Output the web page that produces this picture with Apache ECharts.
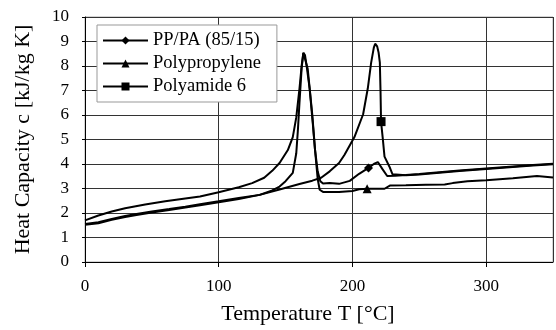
<!DOCTYPE html>
<html><head><meta charset="utf-8">
<script src="https://cdn.jsdelivr.net/npm/echarts@6/dist/echarts.min.js"></script>
<style>html,body{margin:0;padding:0;background:#fff}#c{width:556px;height:330px}</style>
</head><body><div id="c"></div><script>
const seriesNames = ['PP/PA (85/15)', 'Polypropylene', 'Polyamide 6'];
const blendData = [[0,1.7],[10,1.9],[20,2.06],[30,2.19],[45,2.35],[60,2.48],[75,2.59],[86,2.67],[100,2.85],[115,3.05],[125,3.22],[134,3.44],[140,3.72],[145.5,4.04],[151.7,4.57],[155.4,5.1],[158,5.9],[160.4,7.08],[162,8.0],[163.3,8.54],[164.5,8.45],[166,7.9],[168,7.08],[170.4,5.63],[172,4.6],[174,3.7],[176,3.3],[178,3.2],[183,3.22],[190,3.19],[198,3.31],[205,3.6],[212,3.84],[216,4.0],[219,4.08],[222.6,3.78],[226,3.51],[232,3.52],[240,3.55],[250,3.59],[265,3.66],[280,3.73],[300,3.82],[320,3.9],[335,3.96],[350,4.01]];
const ppData = [[0,1.52],[10,1.58],[20,1.72],[30,1.84],[38.5,1.92],[50,2.02],[63,2.12],[75,2.22],[86,2.32],[100,2.44],[115,2.57],[130.6,2.74],[140,2.92],[145.5,3.08],[150,3.3],[155.4,3.64],[158,4.44],[159.2,5.37],[160.4,6.5],[162,7.9],[163.3,8.54],[164.5,8.5],[166.5,7.9],[168,7.1],[170,6.0],[172,4.6],[174,3.4],[175.5,2.95],[178,2.86],[190,2.86],[200,2.9],[205,2.97],[211,2.99],[224,2.99],[228,3.12],[240,3.13],[255,3.15],[269,3.16],[275,3.22],[286,3.3],[300,3.34],[320,3.42],[338,3.51],[350,3.45]];
const pa6Data = [[0,1.55],[10,1.62],[20,1.76],[30,1.88],[38.5,1.96],[50,2.06],[63,2.16],[75,2.26],[86,2.36],[100,2.48],[115,2.61],[130.6,2.74],[145.5,2.96],[160.4,3.18],[170,3.32],[176.6,3.44],[183,3.7],[190,4.04],[194,4.37],[201.5,5.1],[208,6.03],[211.5,7.09],[214,8.14],[216,8.75],[217,8.91],[218.5,8.8],[219.6,8.54],[220.5,8.14],[221,7.0],[221.4,5.73],[222.6,5.1],[224,4.3],[227.6,3.9],[230,3.58],[240,3.54],[250,3.57],[265,3.64],[280,3.71],[300,3.8],[320,3.88],[335,3.94],[350,3.99]];
const markerT = [212, 211, 221.4];
const symbols = ['diamond', 'triangle', 'rect'];
const xName = 'Temperature T [°C]';
const yName = 'Heat Capacity c [kJ/kg K]';

const font = "'Liberation Serif','Times New Roman',serif";
const allData = [blendData, ppData, pa6Data];
const chart = echarts.init(document.getElementById('c'), null, {renderer: 'canvas'});
chart.setOption({
  animation: false,
  backgroundColor: '#fff',
  textStyle: {fontFamily: font, color: '#000'},
  grid: {left: 85, right: 3, top: 17, bottom: 62, show: true, borderColor: '#aaa', borderWidth: 1},
  legend: {
    orient: 'vertical', left: 97, top: 25,
    data: seriesNames,
    itemWidth: 45, itemHeight: 10, itemGap: 4,
    padding: [6, 16, 6, 5],
    backgroundColor: '#fff', borderColor: '#999', borderWidth: 1,
    textStyle: {fontFamily: font, fontSize: 18.5, color: '#000', lineHeight: 17}
  },
  xAxis: {
    type: 'value', min: 0, max: 350, interval: 100,
    name: xName, nameLocation: 'middle', nameGap: 41,
    nameTextStyle: {fontFamily: font, fontSize: 22, color: '#000', padding: [0, 22, 0, 0]},
    axisLine: {show: true, lineStyle: {color: '#000', width: 1}},
    axisTick: {show: true, inside: false, length: 5, lineStyle: {color: '#000'}},
    axisLabel: {fontFamily: font, fontSize: 17, color: '#000', margin: 16, showMaxLabel: false},
    splitLine: {show: true, lineStyle: {color: '#333', width: 1}}
  },
  yAxis: {
    type: 'value', min: 0, max: 10, interval: 1,
    name: yName, nameLocation: 'middle', nameGap: 51,
    nameTextStyle: {fontFamily: font, fontSize: 22, color: '#000'},
    axisLine: {show: true, lineStyle: {color: '#000', width: 1}},
    axisTick: {show: true, inside: false, length: 3, lineStyle: {color: '#000'}},
    axisLabel: {fontFamily: font, fontSize: 17, color: '#000', margin: 16},
    splitLine: {show: true, lineStyle: {color: '#333', width: 1}}
  },
  series: seriesNames.map((n, i) => ({
    name: n, type: 'line', data: allData[i],
    symbol: symbols[i],
    symbolSize: (v) => (v[0] === markerT[i] ? 9 : 0),
    showSymbol: true, showAllSymbol: true,
    lineStyle: {color: '#000', width: 2},
    itemStyle: {color: '#000'},
    z: 3
  }))
});
</script></body></html>
